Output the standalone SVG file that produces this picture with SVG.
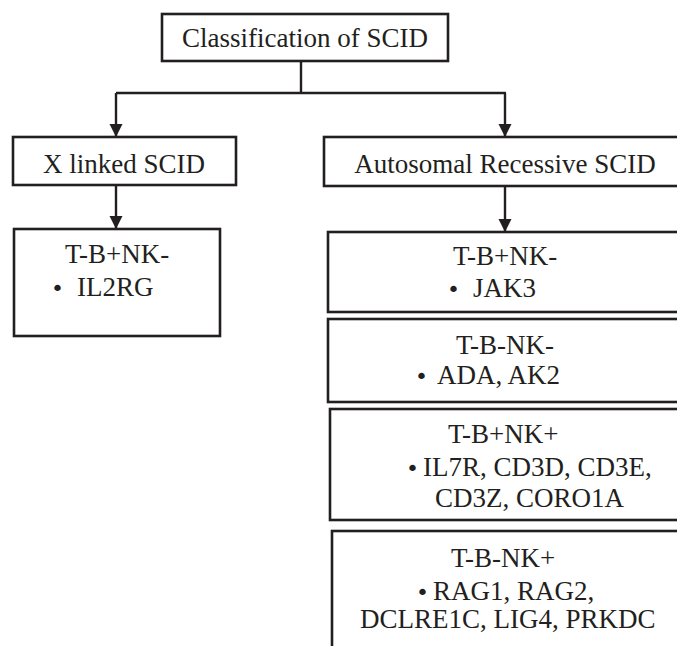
<svg xmlns="http://www.w3.org/2000/svg" width="677" height="646" viewBox="0 0 677 646">
<style>
.box{fill:#fff;stroke:#231f20;stroke-width:2.6}
.ln{fill:none;stroke:#231f20;stroke-width:2.4}
</style>
<defs>
<path id="ah" d="M-6.5,-13 L6.5,-13 L0,0 Z" fill="#231f20"/>
</defs>
<rect width="677" height="646" fill="#fff"/>
<g id="connectors">
<path class="ln" d="M301,61 V93"/>
<path class="ln" d="M116,93 H506"/>
<path class="ln" d="M116,93 V137"/>
<path class="ln" d="M505,93 V137"/>
<path class="ln" d="M116,185 V229"/>
<path class="ln" d="M505,186 V232"/>
<use href="#ah" x="116" y="137"/>
<use href="#ah" x="505" y="137"/>
<use href="#ah" x="116" y="229"/>
<use href="#ah" x="505" y="232"/>
</g>
<g id="root">
<rect class="box" x="162" y="14" width="286" height="47"/>
<text x="305" y="47" text-anchor="middle" font-family="Liberation Serif" font-size="27" fill="#231f20">Classification of SCID</text>
</g>
<g id="xlinked">
<rect class="box" x="13" y="137" width="223" height="48"/>
<text x="124" y="173" text-anchor="middle" font-family="Liberation Serif" font-size="27" fill="#231f20">X linked SCID</text>
</g>
<g id="ar">
<rect class="box" x="324" y="137" width="366" height="49"/>
<text x="505" y="173" text-anchor="middle" font-family="Liberation Serif" font-size="27" fill="#231f20">Autosomal Recessive SCID</text>
</g>
<g id="x-tbnk">
<rect class="box" x="14" y="229" width="206" height="107"/>
<text x="65" y="263" font-family="Liberation Serif" font-size="27" fill="#231f20">T-B+NK-</text>
<text x="51" y="296" font-family="DejaVu Sans" font-size="22" fill="#231f20">•</text>
<text x="77" y="296" font-family="Liberation Serif" font-size="27" fill="#231f20">IL2RG</text>
</g>
<g id="ar-jak3">
<rect class="box" x="328" y="232" width="362" height="80"/>
<text x="453" y="265" font-family="Liberation Serif" font-size="27" fill="#231f20">T-B+NK-</text>
<text x="447" y="297" font-family="DejaVu Sans" font-size="22" fill="#231f20">•</text>
<text x="473" y="297" font-family="Liberation Serif" font-size="27" fill="#231f20">JAK3</text>
</g>
<g id="ar-ada">
<rect class="box" x="328" y="319" width="362" height="83"/>
<text x="456" y="354" font-family="Liberation Serif" font-size="27" fill="#231f20">T-B-NK-</text>
<text x="415" y="384" font-family="DejaVu Sans" font-size="22" fill="#231f20">•</text>
<text x="437" y="384" font-family="Liberation Serif" font-size="27" fill="#231f20">ADA, AK2</text>
</g>
<g id="ar-il7r">
<rect class="box" x="330" y="409" width="360" height="111"/>
<text x="448" y="443" font-family="Liberation Serif" font-size="27" fill="#231f20">T-B+NK+</text>
<text x="406" y="476" font-family="DejaVu Sans" font-size="22" fill="#231f20">•</text>
<text x="423" y="476" font-family="Liberation Serif" font-size="27" fill="#231f20">IL7R, CD3D, CD3E,</text>
<text x="435" y="507" font-family="Liberation Serif" font-size="27" fill="#231f20">CD3Z, CORO1A</text>
</g>
<g id="ar-rag">
<rect class="box" x="332" y="531" width="358" height="140"/>
<text x="451" y="567" font-family="Liberation Serif" font-size="27" fill="#231f20">T-B-NK+</text>
<text x="416" y="600" font-family="DejaVu Sans" font-size="22" fill="#231f20">•</text>
<text x="433" y="600" font-family="Liberation Serif" font-size="27" fill="#231f20">RAG1, RAG2,</text>
<text x="360" y="628" font-family="Liberation Serif" font-size="27" fill="#231f20">DCLRE1C, LIG4, PRKDC</text>
</g>
</svg>
